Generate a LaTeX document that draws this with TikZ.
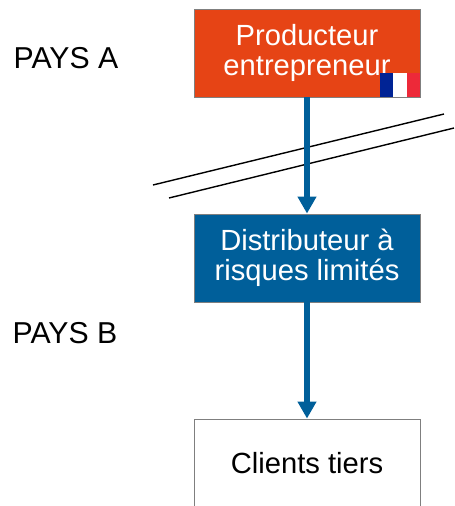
\documentclass[tikz,border=0pt]{standalone}
\usepackage{fontspec}
\setmainfont{Liberation Sans}
\usetikzlibrary{arrows.meta}

\definecolor{prodorange}{HTML}{E64415}
\definecolor{distblue}{HTML}{005F9A}
\definecolor{boxgrey}{HTML}{7F7F7F}
\definecolor{flagblue}{HTML}{002395}
\definecolor{flagred}{HTML}{ED2939}

\tikzset{
  entity/.style={draw=boxgrey, line width=0.5pt, minimum width=4.52cm, minimum height=1.76cm,
    inner sep=0pt, align=center, font=\fontsize{16.6}{17}\selectfont},
  paystext/.style={inner sep=0pt, font=\fontsize{17.2}{18}\selectfont},
  flow/.style={draw=distblue, line width=0.12cm, -{Triangle[length=0.34cm,width=0.36cm]}},
  border/.style={line width=0.8pt}
}

\begin{document}
\begin{tikzpicture}
\useasboundingbox (0,0) rectangle (9.08,10.12);

% Draw border lines
\coordinate (b1s) at (3.06,6.42);
\coordinate (b1e) at (8.88,7.84);
\coordinate (b2s) at (3.38,6.16);
\coordinate (b2e) at (9.08,7.56);
\draw[border] (b1s) -- (b1e);
\draw[border] (b2s) -- (b2e);

% Draw boxes
\node[entity, fill=prodorange, text=white] (prod) at (6.14,9.06) {Producteur\\entrepreneur};
\node[entity, fill=distblue, text=white] (dist) at (6.14,4.96) {Distributeur à\\risques limités};
\node[entity, fill=white] (client) at (6.14,0.86) {Clients tiers};

% Draw flag
\fill[flagblue] (7.60,8.18) rectangle (7.867,8.66);
\fill[white] (7.867,8.18) rectangle (8.133,8.66);
\fill[flagred] (8.133,8.18) rectangle (8.40,8.66);

% Draw arrows
\draw[flow] (prod) -- (dist);
\draw[flow] (dist) -- (client);

% Label countries
\node[paystext] (paysa) at (1.32,8.96) {PAYS A};
\node[paystext] (paysb) at (1.30,3.46) {PAYS B};
\end{tikzpicture}
\end{document}
